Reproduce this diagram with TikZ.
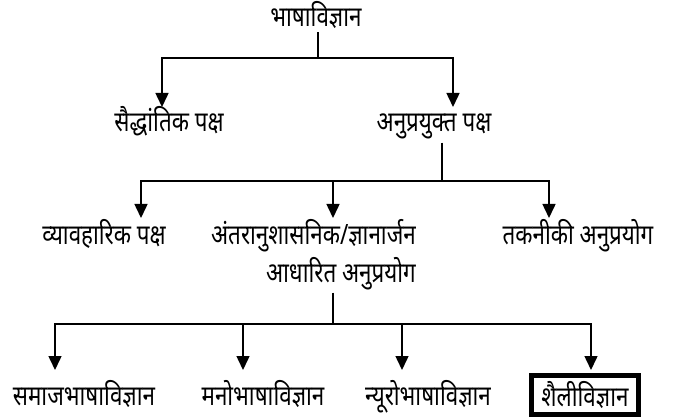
\documentclass[tikz,border=0pt]{standalone}
\usepackage{fontspec}
\newfontfamily\dev[Script=Devanagari,FakeStretch=0.8]{Noto Sans}
\usetikzlibrary{arrows.meta}
\begin{document}
\begin{tikzpicture}[x=1pt,y=-1pt,
  lbl/.style={font=\dev\fontsize{28}{37}\selectfont, inner sep=3pt, anchor=base},
  ln/.style={line width=1.5pt},
  arr/.style={ln,-{Triangle[width=13pt,length=14pt]}},
  boxed/.style={draw, line width=4.5pt, minimum width=107pt, minimum height=39pt, inner sep=0pt}]
\useasboundingbox (0,0) rectangle (676,419);
% nodes
\node[lbl] (root) at (316,27) {भाषाविज्ञान};
\node[lbl] (sid) at (169,132) {सैद्धांतिक पक्ष};
\node[lbl] (anu) at (434,132) {अनुप्रयुक्त पक्ष};
\node[lbl] (vya) at (104,245) {व्यावहारिक पक्ष};
\node[lbl, align=right, anchor=base east] (ant) at (419,282) {अंतरानुशासनिक/ज्ञानार्जन\\आधारित अनुप्रयोग};
\node[lbl] (tak) at (578,245) {तकनीकी अनुप्रयोग};
\node[lbl] (sam) at (84,405) {समाजभाषाविज्ञान};
\node[lbl] (man) at (263,405) {मनोभाषाविज्ञान};
\node[lbl] (nyu) at (428,405) {न्यूरोभाषाविज्ञान};
\node[lbl, boxed, anchor=center] (shl) at (585,395) {शैलीविज्ञान};
% branch points and tips
\coordinate (b1) at (318,58);
\coordinate (t11) at (162,107);
\coordinate (t12) at (453,107);
\coordinate (b2) at (442,181);
\coordinate (t21) at (141,218);
\coordinate (t22) at (333,218);
\coordinate (t23) at (549,218);
\coordinate (b3) at (333,324);
\coordinate (t31) at (55,370);
\coordinate (t32) at (243,370);
\coordinate (t33) at (402,370);
\coordinate (t34) at (591,370);
% connectors
\draw[ln] (b1 |- root.south) -- (b1);
\draw[arr] (b1) -| (t11);
\draw[arr] (b1) -| (t12);
\draw[ln] (b2 |- anu.south) -- (b2);
\draw[arr] (b2) -| (t21);
\draw[arr] (b2) -| (t22);
\draw[arr] (b2) -| (t23);
\draw[ln] (b3 |- ant.south) -- (b3);
\draw[arr] (b3) -| (t31);
\draw[arr] (b3) -| (t32);
\draw[arr] (b3) -| (t33);
\draw[arr] (b3) -| (t34);
\end{tikzpicture}
\end{document}
